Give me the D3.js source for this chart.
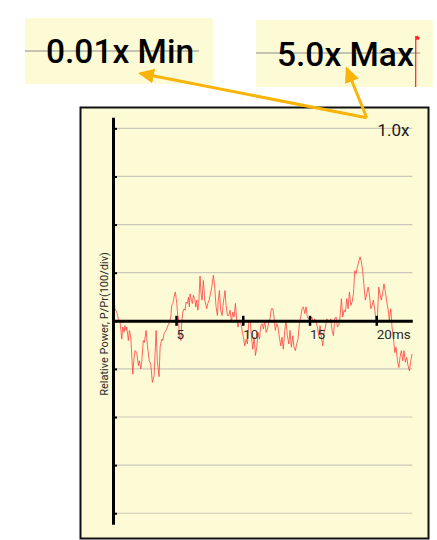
<!DOCTYPE html>
<html>
<head>
<meta charset="utf-8">
<script src="https://cdn.jsdelivr.net/npm/d3@7"></script>
<style>
  body { margin: 0; background: #fff; }
  text { font-family: Roboto, "Noto Sans", sans-serif; }
</style>
</head>
<body>
<div id="chart"></div>
<script>
// trace samples: time (ms) and relative power (100 per division)
const times = [
  0.33,0.43,0.56,0.68,0.81,0.94,1.01,1.11,1.18,1.26,1.31,1.43,1.51,1.61,1.76,1.86,1.93,2.06,2.18,2.25,
  2.36,2.43,2.55,2.63,2.76,2.86,3.00,3.11,3.23,3.36,3.51,3.60,3.73,3.81,3.93,4.01,4.10,4.25,4.35,4.50,
  4.61,4.68,4.76,4.85,4.95,5.06,5.13,5.18,5.25,5.36,5.43,5.51,5.60,5.68,5.75,5.85,5.93,6.00,6.05,6.15,
  6.23,6.30,6.40,6.48,6.55,6.63,6.70,6.80,6.88,6.95,7.05,7.15,7.25,7.30,7.38,7.48,
  7.68,7.80,7.90,8.00,8.10,8.17,8.25,8.35,8.45,8.55,8.67,8.75,8.85,8.95,9.05,9.15,9.25,9.35,9.45,9.55,
  9.65,9.75,9.85,9.95,10.05,10.15,10.25,10.35,10.45,10.55,10.65,10.75,10.85,10.95,11.05,11.15,11.25,11.35,11.45,11.55,
  11.65,11.75,11.85,11.95,12.04,12.14,12.25,12.34,12.44,12.55,12.64,12.74,12.85,12.94,13.04,13.15,13.24,13.34,13.45,13.54,
  13.64,13.75,13.84,13.94,14.04,14.14,14.24,14.34,14.44,14.54,14.65,14.74,14.84,14.94,15.04,
  15.17,15.29,15.39,15.49,15.59,15.69,15.79,15.89,15.99,16.09,16.19,16.29,16.39,16.49,16.59,16.69,16.79,16.89,16.99,17.09,
  17.19,17.29,17.39,17.49,17.59,17.69,17.79,17.89,17.99,18.09,18.19,18.29,18.39,18.49,18.58,18.69,18.79,18.88,18.99,19.09,
  19.18,19.29,19.39,19.48,19.59,19.69,19.78,19.89,19.99,20.08,20.19,20.28,20.38,20.49,20.58,20.68,20.79,20.88,20.98,21.09,
  21.18,21.28,21.39,21.48,21.59,21.69,21.78,21.88,21.99,22.08,22.18,22.28,22.38,22.48,22.59,22.68
];
const power = [
  49,25,18,4,-3,-38,-13,-24,-10,-20,-13,-41,-20,-34,-111,-76,-62,-66,-93,-83,
  -100,-86,-41,-45,-20,-52,-83,-90,-128,-114,-20,-83,-116,-55,-38,-41,-27,-20,-13,-3,
  8,32,36,49,60,36,11,8,-31,-41,-3,18,25,22,39,36,49,29,56,43,
  36,53,46,29,43,22,36,93,56,43,84,43,32,25,36,43,
  70,95,70,29,11,43,63,22,11,39,63,32,11,11,22,-3,18,8,36,1,
  -13,1,-3,-20,-34,-52,-38,-48,-3,1,-34,-59,-34,-72,-55,-24,-38,-10,-6,-17,
  1,-24,-17,-3,4,25,25,8,-20,-6,-13,-34,-52,-34,-59,-20,1,-31,-48,-20,
  -55,-31,-55,-62,-48,-38,-6,8,25,29,15,29,8,4,1,
  8,-3,4,-3,-13,-31,-10,-34,-52,-24,-13,4,1,-3,4,-20,-31,4,8,-13,
  -10,8,46,8,22,18,46,25,60,32,39,56,104,98,112,123,133,123,102,70,
  43,56,70,56,25,32,43,22,-3,4,70,56,43,60,77,60,39,25,1,25,
  -13,-34,-66,-55,-83,-97,-76,-62,-83,-62,-86,-76,-93,-104,-83,-69
];
const xTicks = [5, 10, 15, 20];
const xTickLabels = ["5", "10", "15", "20ms"];
const yTicks = [-400, -300, -200, -100, 0, 100, 200, 300, 400];
const yLabel = "Relative Power, P/Pr(100/div)";
const scaleLabel = "1.0x";
const minLabel = "0.01x Min";
const maxLabel = "5.0x Max";
// piece of the trace seen in the "Max" magnifier (normalised)
const insetT = [0, 0.02, 0.3, 0.55, 0.8, 1];
const insetV = [0, 1, 0.93, 1, 0.93, 0.98];

const width = 437, height = 540;
const svg = d3.select("#chart")
  .append("svg")
  .attr("width", width)
  .attr("height", height);

const yellow = "#fdfbd6";
const amber = "#f9b40a";

// chart frame
svg.append("rect")
  .attr("x", 80.5).attr("y", 107.5)
  .attr("width", 348).attr("height", 431)
  .attr("fill", yellow)
  .attr("stroke", "#111")
  .attr("stroke-width", 2);

// scales
const x = d3.scaleLinear().domain([0.28, 22.7]).range([113, 412.3]);
const y = d3.scaleLinear().domain([-423, 423]).range([524.3, 117.3]);

// grid lines
svg.selectAll("line.hgrid").data(yTicks.filter(d => d !== 0)).enter()
  .append("line")
  .attr("class", "hgrid")
  .attr("x1", x(0.28)).attr("x2", x(22.7))
  .attr("y1", d => y(d)).attr("y2", d => y(d))
  .attr("stroke", "#c9c8bd")
  .attr("stroke-width", 1.2);

// trace
const pts = d3.zip(times, power);
svg.append("path")
  .datum(pts)
  .attr("fill", "none")
  .attr("stroke", "#ff4040")
  .attr("stroke-opacity", 0.8)
  .attr("stroke-width", 1)
  .attr("d", d3.line().x(d => x(d[0])).y(d => y(d[1])).curve(d3.curveLinear));

// Y axis
const yAxis = svg.append("g")
  .attr("transform", `translate(${x(0.28)},0)`)
  .call(d3.axisLeft(y).tickValues(yTicks).tickSize(4).tickSizeOuter(0).tickFormat(""));
yAxis.select(".domain").attr("stroke", "#000").attr("stroke-width", 3);
yAxis.selectAll(".tick line").attr("x2", 4).attr("stroke", "#000").attr("stroke-width", 2);

// X axis (at zero)
const xAxis = svg.append("g")
  .attr("transform", `translate(0,${y(0)})`)
  .call(d3.axisBottom(x).tickValues(xTicks).tickSize(5).tickSizeOuter(0)
    .tickFormat((d, i) => xTickLabels[i]));
xAxis.select(".domain").attr("stroke", "#000").attr("stroke-width", 3);
xAxis.selectAll(".tick line").attr("y1", -5).attr("stroke", "#000").attr("stroke-width", 2.5);
xAxis.selectAll(".tick text")
  .attr("text-anchor", "start")
  .attr("x", 0).attr("y", 18.5).attr("dy", 0)
  .attr("fill", "#2a2a2a")
  .style("font-size", "13.5px")
  .style("font-family", "Roboto, sans-serif");

// Y axis label
svg.append("text")
  .attr("transform", "translate(107.5,324) rotate(-90)")
  .attr("text-anchor", "middle")
  .attr("fill", "#2a2a2a")
  .style("font-size", "11px")
  .text(yLabel);

// scale label
svg.append("text")
  .attr("x", 409.5).attr("y", 135.7)
  .attr("text-anchor", "end")
  .attr("fill", "#1a1a1a")
  .style("font-size", "17px")
  .text(scaleLabel);

// magnifier boxes
svg.append("rect").attr("x", 25).attr("y", 18).attr("width", 188).attr("height", 66).attr("fill", yellow);
svg.append("line").attr("x1", 25).attr("x2", 199).attr("y1", 51).attr("y2", 51)
  .attr("stroke", "#8c8c8c").attr("stroke-width", 1.2);
svg.append("text").attr("x", 46).attr("y", 63)
  .attr("fill", "#000").style("font-size", "33.5px").style("font-weight", 500).text(minLabel);

svg.append("rect").attr("x", 256).attr("y", 20).attr("width", 177).attr("height", 67).attr("fill", yellow);
svg.append("line").attr("x1", 256).attr("x2", 420).attr("y1", 53).attr("y2", 53)
  .attr("stroke", "#8c8c8c").attr("stroke-width", 1.2);
svg.append("text").attr("x", 277).attr("y", 66)
  .attr("fill", "#000").style("font-size", "33.5px").style("font-weight", 500).text(maxLabel);

const ix = d3.scaleLinear().domain([0, 1]).range([415.7, 419]);
const iy = d3.scaleLinear().domain([0, 1]).range([87, 36]);
svg.append("path")
  .datum(d3.zip(insetT, insetV))
  .attr("fill", "none")
  .attr("stroke", "#ff1f1f")
  .attr("stroke-width", 1.2)
  .attr("d", d3.line().x(d => ix(d[0])).y(d => iy(d[1])));

// arrows
svg.append("defs").append("marker")
  .attr("id", "head")
  .attr("viewBox", "0 0 16 15")
  .attr("markerUnits", "userSpaceOnUse")
  .attr("markerWidth", 16).attr("markerHeight", 15)
  .attr("refX", 14).attr("refY", 7.5)
  .attr("orient", "auto")
  .append("path")
  .attr("d", "M0,0 L16,7.5 L0,15 z")
  .attr("fill", amber);

[[140, 73.3], [346.7, 68.3]].forEach(function(tip) {
  svg.append("line")
    .attr("x1", 366.7).attr("y1", 117.7)
    .attr("x2", tip[0]).attr("y2", tip[1])
    .attr("stroke", amber)
    .attr("stroke-width", 3)
    .attr("marker-end", "url(#head)");
});
</script>
</body>
</html>
